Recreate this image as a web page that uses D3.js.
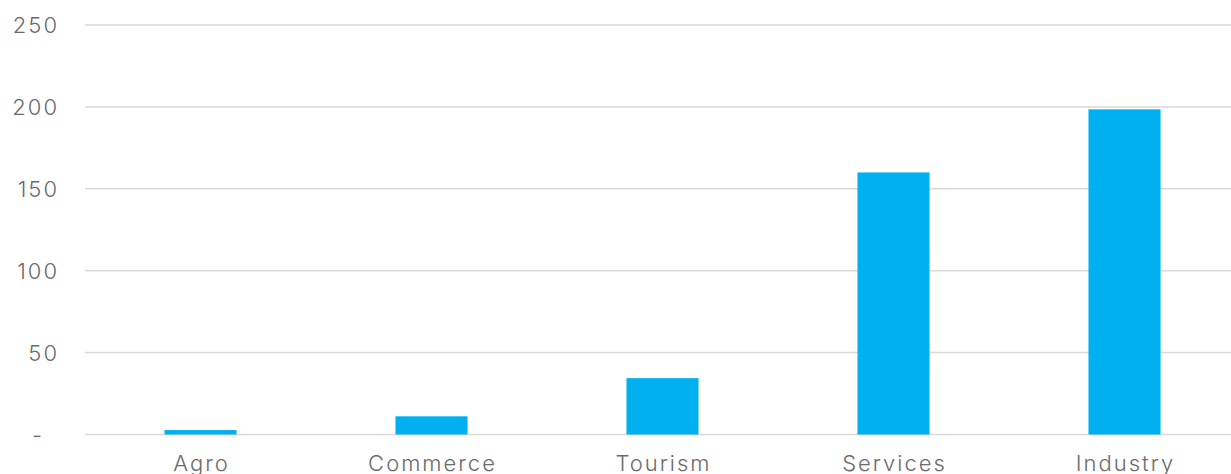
<!DOCTYPE html>
<html>
<head>
<meta charset="utf-8">
<script src="https://cdn.jsdelivr.net/npm/d3@7"></script>
<style>
  html, body { margin: 0; padding: 0; background: #fff; }
  svg { display: block; }
  text { font-family: Inter, "Open Sans", sans-serif; font-weight: 300; fill: #6b6b6b; letter-spacing: 2px; }
</style>
</head>
<body>
<svg id="chart" width="1231" height="474"></svg>
<script>
// Sector totals
const categories = ["Agro", "Commerce", "Tourism", "Services", "Industry"];
const values = [2.7, 11.1, 34.4, 160, 198.5];
const yTicks = [0, 50, 100, 150, 200, 250];

const W = 1231, H = 474;
const margin = { left: 85, right: -9, top: 25, bottom: 39.5 };

const svg = d3.select("#chart");

const x = d3.scaleBand()
  .domain(categories)
  .range([margin.left, W - margin.right])
  .paddingInner(0.688)
  .paddingOuter(0.344);

const y = d3.scaleLinear()
  .domain([0, 250])
  .range([H - margin.bottom, margin.top]);

// Horizontal gridlines
svg.append("g")
  .selectAll("line")
  .data(yTicks)
  .join("line")
  .attr("x1", margin.left)
  .attr("x2", W)
  .attr("y1", d => y(d))
  .attr("y2", d => y(d))
  .attr("stroke", "#d9d9d9")
  .attr("stroke-width", 1.5);

// Y axis labels
const yAxis = d3.axisLeft(y)
  .tickValues(yTicks)
  .tickSize(0)
  .tickPadding(0)
  .tickFormat(d => d === 0 ? "-" : d3.format("d")(d));

const gy = svg.append("g")
  .attr("transform", "translate(59,0)")
  .call(yAxis);
gy.select(".domain").remove();
gy.selectAll("text")
  .style("font-size", "22px")
  .attr("fill", "#6b6b6b")
  .attr("dy", "0.36em")
  .attr("dx", d => d === 0 ? -15 : 0);

// Bars
svg.append("g")
  .selectAll("rect")
  .data(categories.map((c, i) => ({ c, v: values[i] })))
  .join("rect")
  .attr("x", d => x(d.c))
  .attr("width", x.bandwidth())
  .attr("y", d => y(d.v))
  .attr("height", d => y(0) - y(d.v))
  .attr("fill", "#00b0f0");

// Category labels
const xAxis = d3.axisBottom(x).tickSize(0).tickPadding(0);
const gx = svg.append("g")
  .attr("transform", `translate(0,${y(0)})`)
  .call(xAxis);
gx.select(".domain").remove();
gx.selectAll("text")
  .style("font-size", "22px")
  .attr("fill", "#6b6b6b")
  .attr("y", 36)
  .attr("dy", 0)
  .attr("dx", 1);
</script>
</body>
</html>
